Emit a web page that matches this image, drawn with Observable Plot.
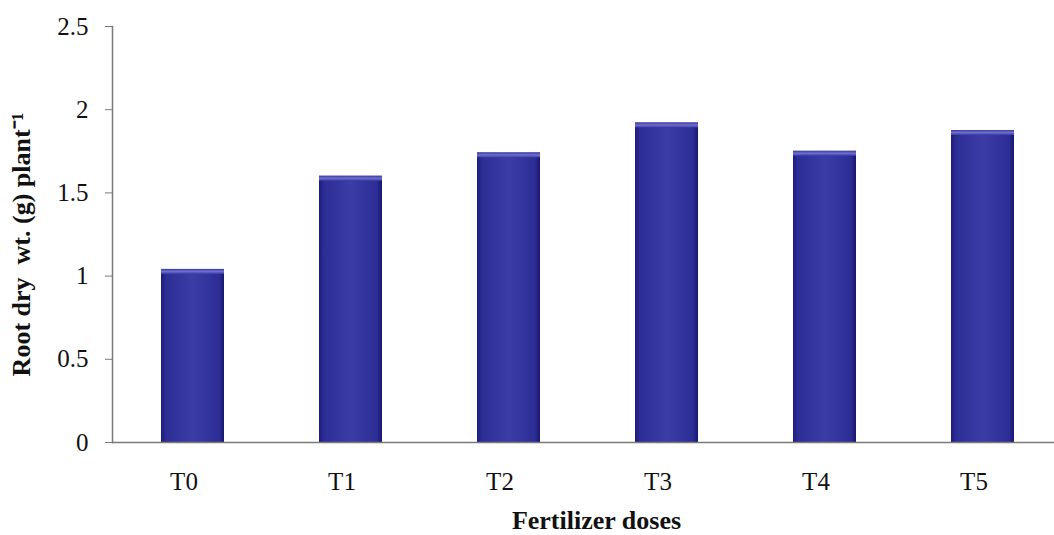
<!DOCTYPE html>
<html>
<head>
<meta charset="utf-8">
<script src="https://cdn.jsdelivr.net/npm/d3@7"></script>
<script src="https://cdn.jsdelivr.net/npm/@observablehq/plot@0.6"></script>
<style>
  html, body { margin: 0; padding: 0; background: #fff; }
  #chart svg { font-family: "Liberation Serif", "Times New Roman", serif; }
  #chart svg text { font-family: "Liberation Serif", "Times New Roman", serif !important; fill: #111; }
  #chart svg g[aria-label="y-axis tick label"] text,
  #chart svg g[aria-label="x-axis tick label"] text { font-size: 25px !important; }
  #chart svg g.title text { font-size: 26px !important; }
</style>
</head>
<body>
<div id="chart"></div>
<script>
const categories = ["T0", "T1", "T2", "T3", "T4", "T5"];
const values = [1.04, 1.60, 1.74, 1.92, 1.75, 1.875];
const yTicks = [0, 0.5, 1, 1.5, 2, 2.5];
const yTickLabels = ["0", "0.5", "1", "1.5", "2", "2.5"];
const xTitle = "Fertilizer doses";
const yTitle = "Root dry  wt. (g) plant⁻¹";

const data = categories.map((c, i) => ({cat: c, val: values[i]}));

const chart = Plot.plot({
  width: 1054,
  height: 535,
  marginTop: 26,
  marginBottom: 93,
  marginLeft: 112,
  marginRight: 0,
  style: {background: "#fff"},
  x: {domain: categories, range: [112, 1063], padding: 0.6, paddingOuter: 0.3, label: null},
  y: {domain: [0, 2.5], label: null},
  marks: [
    Plot.barY(data, {x: "cat", y: "val", fill: "url(#barGrad)"}),
    Plot.barY(data, {x: "cat", y1: d => d.val - 0.03, y2: d => d.val, fill: "url(#topGrad)"}),
    Plot.ruleY([0], {stroke: "#7a7a7a", strokeWidth: 1.5}),
    Plot.frame({anchor: "left", stroke: "#7a7a7a", strokeWidth: 1.5}),
    Plot.axisY({ticks: yTicks, tickFormat: d => yTickLabels[yTicks.indexOf(d)], tickSize: 7, tickPadding: 17, stroke: "#7a7a7a", label: null}),
    Plot.axisX({tickSize: 0, tickPadding: 30, dx: -9, label: null}),
    Plot.text([xTitle], {frameAnchor: "bottom", dx: 13, dy: 86, fontWeight: "bold", fill: "#111", className: "title"}),
    Plot.text([yTitle], {frameAnchor: "left", textAnchor: "middle", dx: -91, dy: 10, rotate: -90, fontWeight: "bold", fill: "#111", className: "title"})
  ]
});

const ns = "http://www.w3.org/2000/svg";
const defs = document.createElementNS(ns, "defs");
defs.innerHTML = `
  <linearGradient id="barGrad" x1="0" x2="1" y1="0" y2="0">
    <stop offset="0" stop-color="#1b1b7e"/>
    <stop offset="0.08" stop-color="#2d2d96"/>
    <stop offset="0.5" stop-color="#3c3ca6"/>
    <stop offset="0.92" stop-color="#2d2d96"/>
    <stop offset="1" stop-color="#17176e"/>
  </linearGradient>
  <linearGradient id="topGrad" x1="0" x2="0" y1="0" y2="1">
    <stop offset="0" stop-color="#3a3aa6"/>
    <stop offset="0.5" stop-color="#6f6fcc"/>
    <stop offset="1" stop-color="#3c3ca6"/>
  </linearGradient>`;
chart.insertBefore(defs, chart.firstChild);
document.getElementById("chart").appendChild(chart);
</script>
</body>
</html>
